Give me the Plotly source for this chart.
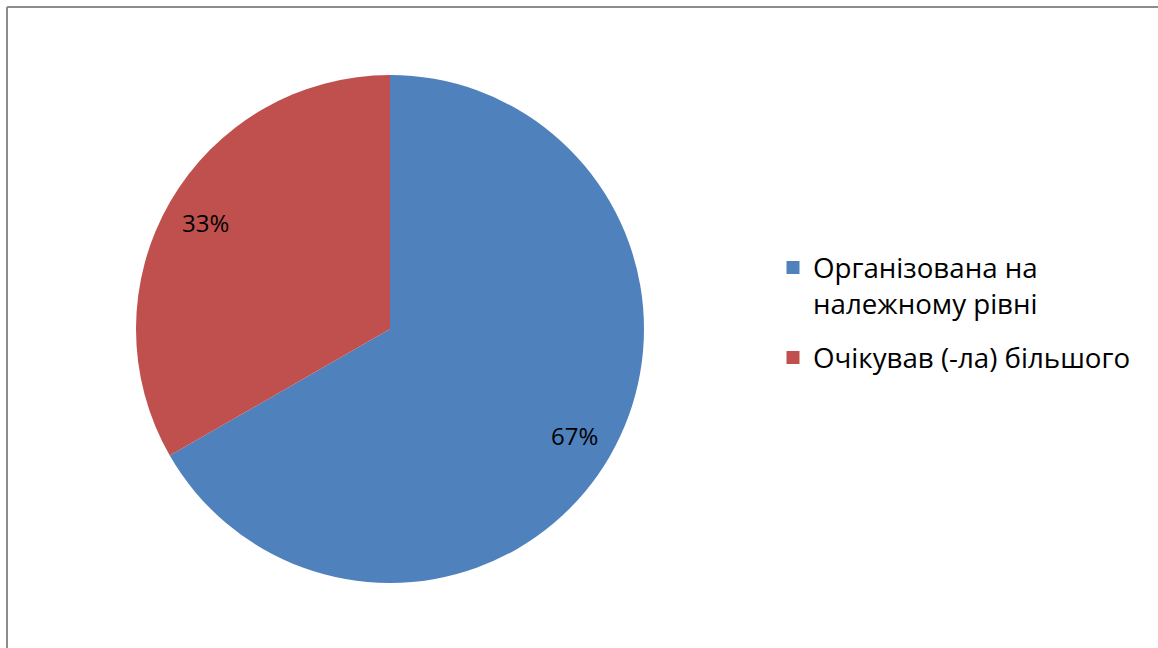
import math
import plotly.graph_objects as go

categories = ["Організована на<br>належному рівні", "Очікував (-ла) більшого"]
values = [66.7, 33.3]
colors = ["#4F81BD", "#C0504D"]

W, H = 1158, 648
FONT = "Open Sans, Lato, sans-serif"

# pie geometry (pixels)
cx, cy, r = 390, 329, 254
dom_x = [(cx - r) / W, (cx + r) / W]
dom_y = [1 - (cy + r) / H, 1 - (cy - r) / H]

fig = go.Figure()
fig.add_trace(go.Pie(
    labels=categories,
    values=values,
    sort=False,
    direction="clockwise",
    rotation=0,
    marker=dict(colors=colors, line=dict(width=0)),
    textinfo="none",
    domain=dict(x=dom_x, y=dom_y),
    hoverinfo="label+percent",
    showlegend=False,
))

# legend entries (one per category, square markers)
for i, (lab, col) in enumerate(zip(categories, colors)):
    fig.add_trace(go.Scatter(
        x=[None], y=[None], mode="markers", name=lab,
        marker=dict(symbol="square", size=13, color=col),
        legendgroup=f"g{i}", showlegend=True, hoverinfo="skip",
    ))

# percentage labels placed at the middle angle of each slice, derived from the data
total = sum(values)
annotations = []
cum = 0
for v in values:
    mid = (cum + v / 2) / total * 2 * math.pi
    cum += v
    px = cx + 0.84 * r * math.sin(mid)
    py = cy - 0.84 * r * math.cos(mid)
    annotations.append(dict(
        x=px / W, y=1 - py / H, xref="paper", yref="paper",
        text=f"{round(v / total * 100)}%", showarrow=False,
        font=dict(family=FONT, size=24, color="black"),
        xanchor="center", yanchor="middle",
    ))

fig.update_layout(
    width=W, height=H,
    margin=dict(l=0, r=0, t=0, b=0),
    paper_bgcolor="white",
    plot_bgcolor="white",
    xaxis=dict(visible=False),
    yaxis=dict(visible=False),
    showlegend=True,
    legend=dict(
        x=773 / W, y=1 - 243 / H, xanchor="left", yanchor="top",
        font=dict(family=FONT, size=27.7, color="black"),
        valign="top",
        tracegroupgap=15,
    ),
    annotations=annotations,
    shapes=[
        dict(type="line", xref="paper", yref="paper", x0=7 / W, x1=7 / W, y0=0, y1=1 - 7 / H,
             line=dict(color="#8c8c8c", width=2)),
        dict(type="line", xref="paper", yref="paper", x0=7 / W, x1=1, y0=1 - 7 / H, y1=1 - 7 / H,
             line=dict(color="#8c8c8c", width=2)),
    ],
)

fig.write_html("out.html", config={"displayModeBar": False},
               post_script="document.body.style.margin='0';")
